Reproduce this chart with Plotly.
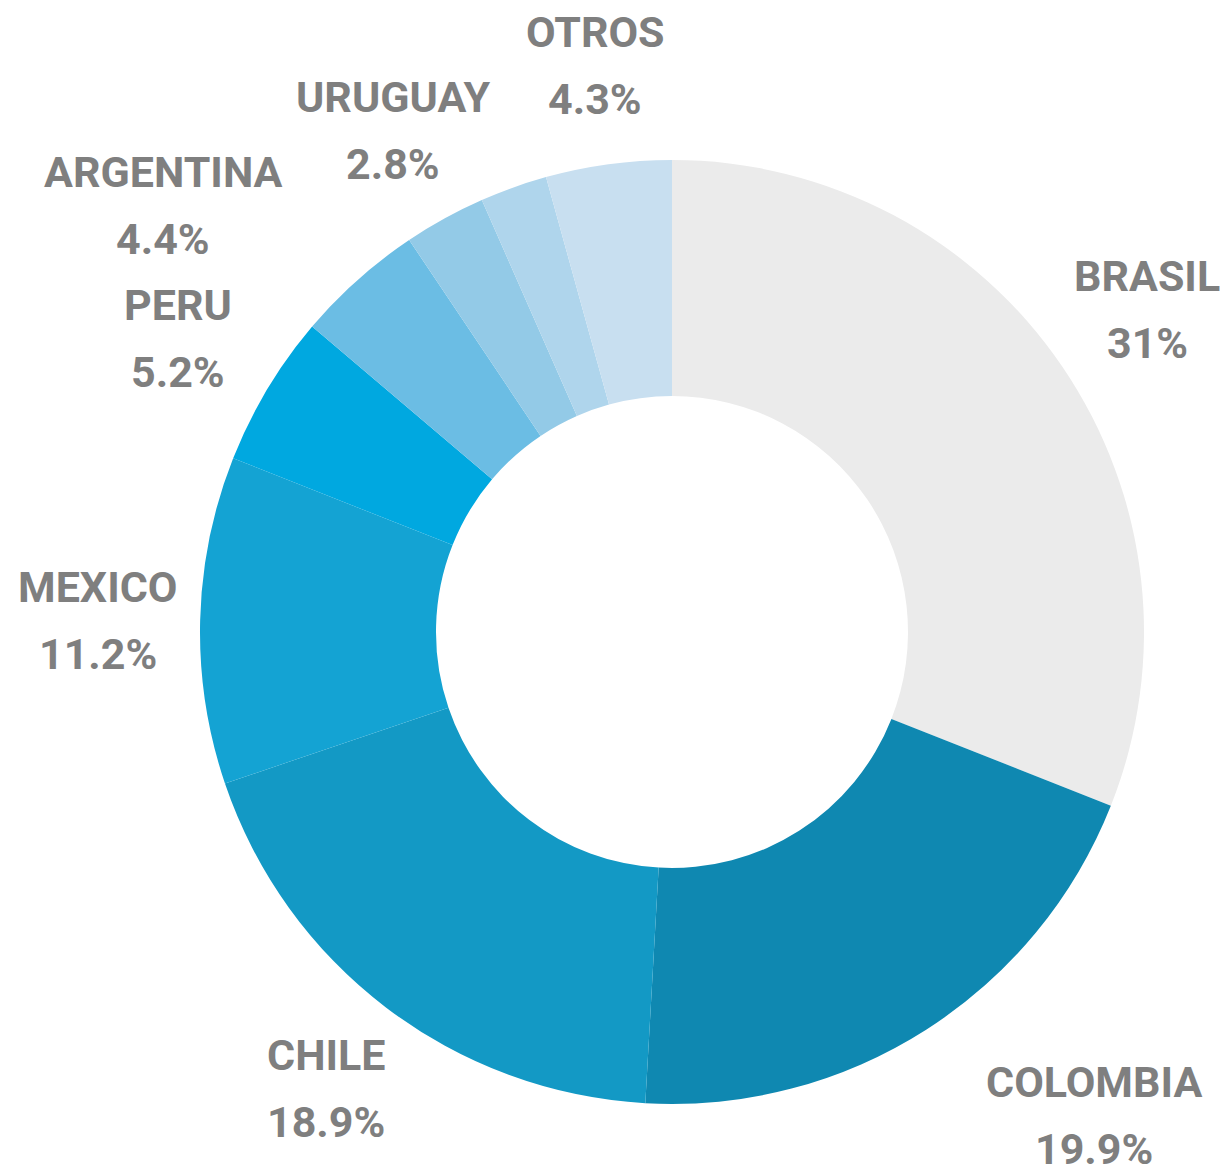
import plotly.graph_objects as go

# ---- data ----
countries = ["BRASIL", "COLOMBIA", "CHILE", "MEXICO", "PERU", "ARGENTINA", "URUGUAY", "", "OTROS"]
shares = [31, 19.9, 18.9, 11.2, 5.2, 4.4, 2.8, 2.3, 4.3]
share_text = ["31%", "19.9%", "18.9%", "11.2%", "5.2%", "4.4%", "2.8%", "", "4.3%"]
colors = ["#EBEBEB", "#0F88B1", "#1399C5", "#14A3D3", "#00A8E0",
          "#6BBDE4", "#93CAE7", "#AFD5EC", "#C8DFF0"]

# ---- layout ----
OFF = 8  # page body margin in the browser
W, H = 1228 - OFF, 1169 - OFF
# label anchor points in window pixels (name line centre)
label_px = {
    "BRASIL": (1147, 276),
    "COLOMBIA": (1094, 1082),
    "CHILE": (326, 1055),
    "MEXICO": (98, 587),
    "PERU": (178, 305),
    "ARGENTINA": (163, 172),
    "URUGUAY": (393, 97),
    "OTROS": (595, 32),
}
line_gap = 67
cx, cy, R = 672 - OFF, 632 - OFF, 472

fig = go.Figure(go.Pie(
    labels=[c if c else " " for c in countries],
    values=shares,
    sort=False,
    direction="clockwise",
    rotation=0,
    hole=0.5,
    marker=dict(colors=colors, line=dict(width=0)),
    textinfo="none",
    hoverinfo="label+value",
    showlegend=False,
    domain=dict(x=[(cx - R) / W, (cx + R) / W],
                y=[(H - cy - R) / H, (H - cy + R) / H]),
))

font = dict(family="Roboto", size=43, color="#7F7F7F")
annotations = []
for name, txt in zip(countries, share_text):
    if not name:
        continue
    px, py = label_px[name]
    px, py = px - OFF, py - OFF
    annotations.append(dict(x=px / W, y=1 - py / H, xref="paper", yref="paper",
                            text="<b>%s</b>" % name, showarrow=False,
                            xanchor="center", yanchor="middle", font=font))
    annotations.append(dict(x=px / W, y=1 - (py + line_gap) / H, xref="paper", yref="paper",
                            text="<b>%s</b>" % txt, showarrow=False,
                            xanchor="center", yanchor="middle", font=font))

fig.update_layout(
    width=W, height=H,
    margin=dict(l=0, r=0, t=0, b=0),
    paper_bgcolor="white",
    plot_bgcolor="white",
    annotations=annotations,
)

fig.write_html("out.html")
